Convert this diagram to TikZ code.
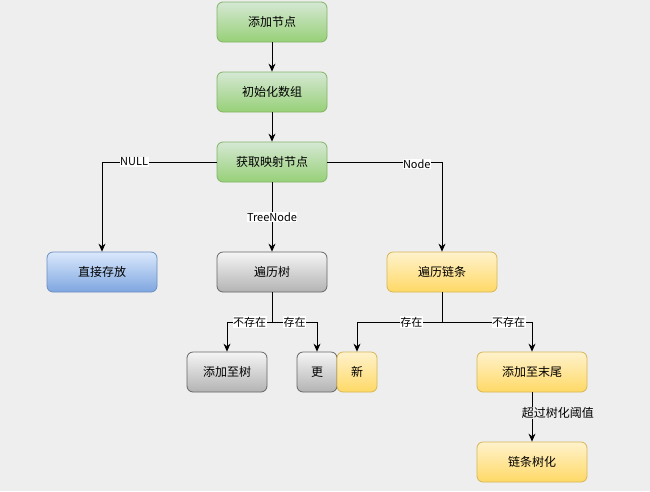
\documentclass[tikz,border=0pt]{standalone}
\usepackage{fontspec}
\setmainfont{Noto Sans CJK SC}
\usetikzlibrary{arrows.meta}

\definecolor{pagebg}{HTML}{EEEEEE}
\definecolor{greentop}{HTML}{D5E8D4}
\definecolor{greenbot}{HTML}{97D077}
\definecolor{greenline}{HTML}{82B366}
\definecolor{bluetop}{HTML}{DAE8FC}
\definecolor{bluebot}{HTML}{7EA6E0}
\definecolor{blueline}{HTML}{6C8EBF}
\definecolor{graytop}{HTML}{F5F5F5}
\definecolor{graybot}{HTML}{B3B3B3}
\definecolor{grayline}{HTML}{666666}
\definecolor{yellowtop}{HTML}{FFF2CC}
\definecolor{yellowbot}{HTML}{FFD966}
\definecolor{yellowline}{HTML}{D6B656}

\begin{document}
\begin{tikzpicture}[x=1pt,y=-1pt,
    >={Stealth[length=8pt,width=7pt]},
    box/.style={rounded corners=6pt, minimum width=110pt, minimum height=40pt,
      inner sep=0pt, line width=0.8pt, font=\fontsize{12}{14}\selectfont},
    greenbox/.style={box, draw=greenline, top color=greentop, bottom color=greenbot},
    bluebox/.style={box, draw=blueline, top color=bluetop, bottom color=bluebot},
    graybox/.style={box, draw=grayline, top color=graytop, bottom color=graybot},
    yellowbox/.style={box, draw=yellowline, top color=yellowtop, bottom color=yellowbot},
    lbl/.style={fill=white, inner sep=0.5pt, font=\fontsize{11}{13}\selectfont},
    flow/.style={line width=0.8pt}]
  % Page background
  \fill[pagebg] (0,0) rectangle (650,491);
  \useasboundingbox (0,0) rectangle (650,491);
  % Main column
  \node[greenbox] (addnode) at (272,22) {添加节点};
  \node[greenbox] (initarr) at (272,92) {初始化数组};
  \node[greenbox] (getnode) at (272,162) {获取映射节点};
  % Bucket cases
  \node[bluebox] (putdirect) at (102,272) {直接存放};
  \node[graybox] (walktree) at (272,272) {遍历树};
  \node[yellowbox] (walklist) at (442,272) {遍历链条};
  % Results
  \node[graybox, minimum width=80pt] (addtree) at (227,372) {添加至树};
  \node[graybox, minimum width=40pt] (updval) at (317,372) {更};
  \node[yellowbox, minimum width=40pt] (newval) at (357,372) {新};
  \node[yellowbox] (addtail) at (532,372) {添加至末尾};
  \node[yellowbox] (treeify) at (532,462) {链条树化};
  % Split points
  \coordinate (treesplit) at (272,322);
  \coordinate (listsplit) at (442,322);
  % Draw connectors
  \draw[flow,->] (addnode) -- (initarr);
  \draw[flow,->] (initarr) -- (getnode);
  \draw[flow,->] (getnode.west) -| node[lbl,pos=0.36] {NULL} (putdirect.north);
  \draw[flow,->] (getnode) -- node[lbl] {TreeNode} (walktree);
  \draw[flow,->] (getnode.east) -| node[lbl,pos=0.39,yshift=-2pt] {Node} (walklist.north);
  % Tree branch
  \draw[flow] (walktree) -- (treesplit);
  \draw[flow,->] (treesplit) -| node[lbl,pos=0.25] {不存在} (addtree.north);
  \draw[flow,->] (treesplit) -| node[lbl,pos=0.25] {存在} (updval.north);
  % List branch
  \draw[flow] (walklist) -- (listsplit);
  \draw[flow,->] (listsplit) -| node[lbl,pos=0.18] {存在} (newval.north);
  \draw[flow,->] (listsplit) -| node[lbl,pos=0.37] {不存在} (addtail.north);
  \draw[flow,->] (addtail) -- node[pos=0.42, anchor=west, xshift=-11pt, fill=pagebg,
    inner sep=0.5pt, font=\fontsize{12}{14}\selectfont] {超过树化阈值} (treeify);
\end{tikzpicture}
\end{document}
